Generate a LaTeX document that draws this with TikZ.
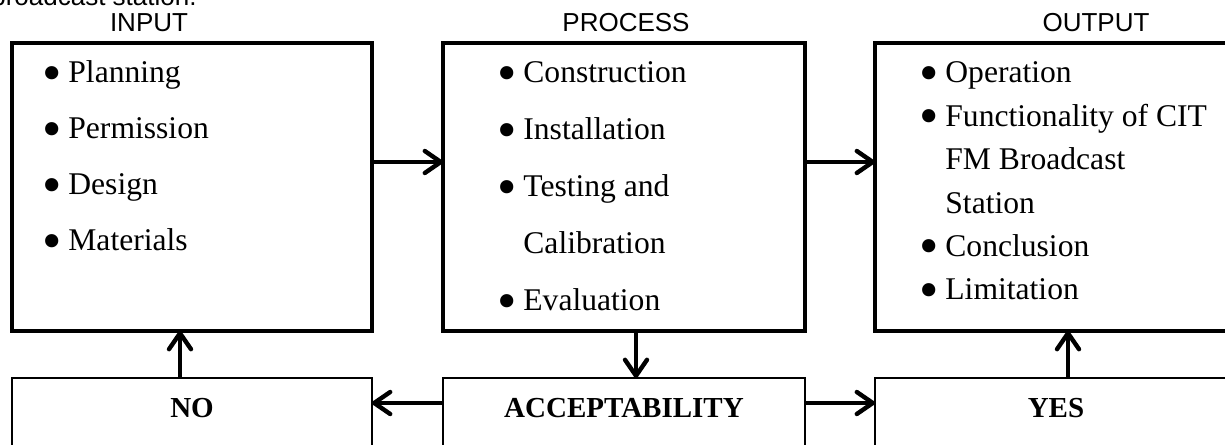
\documentclass[tikz,border=0pt]{standalone}
\usepackage{fontspec}
\setmainfont{Liberation Serif}
\setsansfont{Liberation Sans}
\usetikzlibrary{arrows.meta, positioning}

\newcommand\bitem[1]{\makebox[11.5pt][l]{\hspace*{-1.5pt}\smash{\raisebox{-4.2pt}{\scalebox{1.75}{\textbullet}}}}#1}
\newcommand\bmore[1]{\hspace*{11.5pt}#1}

\begin{document}
\begin{tikzpicture}[x=0.5pt,y=-0.5pt,
    main box/.style={draw,line width=2pt,minimum height=144pt,inner sep=0,outer sep=0},
    low box/.style={draw,line width=1pt,inner xsep=0,inner ysep=0,outer sep=0,
                    text height=19.5pt,text depth=30.5pt,font=\bfseries\fontsize{14.5}{17}\selectfont},
    items/.style={anchor=base west,inner sep=0},
    head/.style={anchor=base,inner sep=0,font=\sffamily\fontsize{13}{15}\selectfont},
    flow/.style={line width=2.2pt,-{Straight Barb[length=8pt,width=11pt,round]}}]

  \useasboundingbox (0,0) rectangle (1225,444);

  % upper row
  \node[main box,minimum width=180pt] (inbox) at (192,187) {};
  \node[main box,minimum width=181pt] (procbox) [right=35.5pt of inbox] {};
  \node[main box,minimum width=181pt] (outbox) [right=35pt of procbox] {};

  % lower row
  \node[low box,minimum width=180pt] (nobox) [below=23.5pt of inbox] {NO};
  \node[low box,minimum width=181pt] (accbox) [below=23.5pt of procbox] {ACCEPTABILITY};
  \node[low box,minimum width=181pt] (yesbox) [below=23.5pt of outbox] {YES};

  % headings
  \node[head,anchor=base east] (capt) at (197,6) {broadcast station.};
  \node[head] (inhead) at ([xshift=-21.5pt,yshift=5.5pt]inbox.north) {INPUT};
  \node[head] (prochead) at ([xshift=1pt,yshift=5.5pt]procbox.north) {PROCESS};
  \node[head] (outhead) at ([xshift=20pt,yshift=5.5pt]outbox.north) {OUTPUT};

  % lists
  \node[items,font=\fontsize{15.8}{28}\selectfont] (inlist)
    at ([xshift=16.5pt,yshift=-20pt]inbox.north west)
    {\parbox[t]{160pt}{\bitem{Planning}\\ \bitem{Permission}\\ \bitem{Design}\\ \bitem{Materials}}};
  \node[items,font=\fontsize{15.8}{28.5}\selectfont] (proclist)
    at ([xshift=28.5pt,yshift=-20pt]procbox.north west)
    {\parbox[t]{160pt}{\bitem{Construction}\\ \bitem{Installation}\\ \bitem{Testing and}\\
      \bmore{Calibration}\\ \bitem{Evaluation}}};
  \node[items,font=\fontsize{15.8}{21.7}\selectfont] (outlist)
    at ([xshift=23.5pt,yshift=-20pt]outbox.north west)
    {\parbox[t]{160pt}{\bitem{Operation}\\ \bitem{Functionality of CIT}\\ \bmore{FM Broadcast}\\
      \bmore{Station}\\ \bitem{Conclusion}\\ \bitem{Limitation}}};

  % arrows
  \draw[flow] ([yshift=12.5pt]inbox.east) -- ([yshift=12.5pt]procbox.west);
  \draw[flow] ([yshift=12.5pt]procbox.east) -- ([yshift=12.5pt]outbox.west);
  \draw[flow] ([xshift=6pt]procbox.south) -- ([xshift=6pt]accbox.north);
  \draw[flow] ([yshift=12.5pt]accbox.west) -- ([yshift=12.5pt]nobox.east);
  \draw[flow] ([yshift=12.5pt]accbox.east) -- ([yshift=12.5pt]yesbox.west);
  \draw[flow] ([xshift=-6pt]nobox.north) -- ([xshift=-6pt]inbox.south);
  \draw[flow] ([xshift=6pt]yesbox.north) -- ([xshift=6pt]outbox.south);
\end{tikzpicture}
\end{document}
